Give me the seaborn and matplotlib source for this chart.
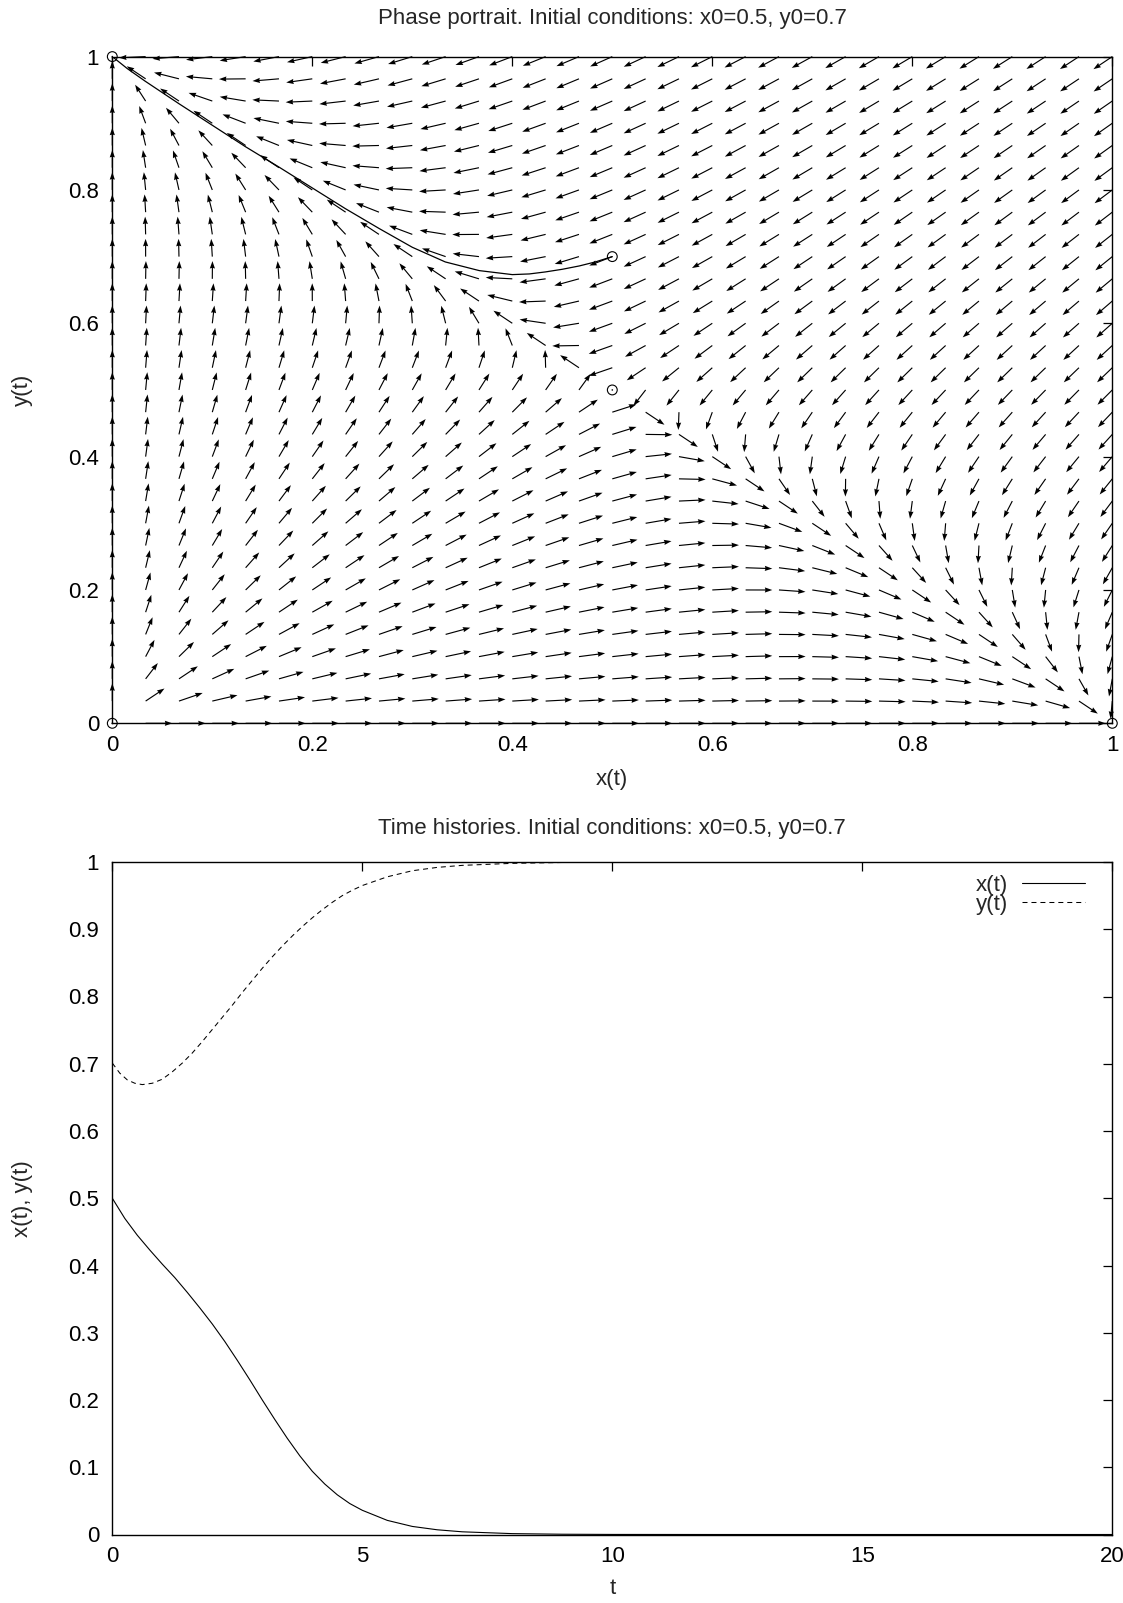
import numpy as np
import pandas as pd
import matplotlib
matplotlib.use("Agg")
import matplotlib.pyplot as plt
import seaborn as sns

# ---------------- data ----------------
# competition model used for the direction field (read from arrow directions)
comp = 2.0
grid_vals = np.linspace(0.0, 1.0, 31)

# equilibria (circles) and initial condition
eq_x = [0.0, 1.0, 0.0, 0.5]
eq_y = [0.0, 0.0, 1.0, 0.5]
init_x = [0.5]
init_y = [0.7]

# phase trajectory
traj_x = [0.500, 0.483, 0.467, 0.450, 0.433, 0.417, 0.400, 0.367, 0.333, 0.300,
          0.267, 0.233, 0.200, 0.167, 0.133, 0.100, 0.067, 0.033, 0.015, 0.0]
traj_y = [0.700, 0.692, 0.686, 0.681, 0.677, 0.674, 0.673, 0.679, 0.692, 0.714,
          0.742, 0.772, 0.803, 0.834, 0.865, 0.897, 0.929, 0.963, 0.982, 1.0]

# time histories
t_x = [0, 0.25, 0.5, 0.75, 1, 1.25, 1.5, 1.75, 2, 2.25, 2.5, 2.75, 3, 3.25, 3.5,
       3.75, 4, 4.25, 4.5, 4.75, 5, 5.5, 6, 6.5, 7, 8, 9, 10, 12, 15, 20]
x_vals = [0.5, 0.470, 0.445, 0.423, 0.402, 0.382, 0.360, 0.337, 0.313, 0.287,
          0.259, 0.230, 0.200, 0.171, 0.143, 0.117, 0.094, 0.075, 0.059, 0.046,
          0.036, 0.021, 0.012, 0.007, 0.004, 0.0013, 0.0004, 0.0001, 0, 0, 0]
t_y = [0, 0.15, 0.3, 0.45, 0.6, 0.8, 1.0, 1.2, 1.4, 1.6, 1.8, 2.0, 2.2, 2.4, 2.6,
       2.8, 3.0, 3.2, 3.4, 3.6, 3.8, 4.0, 4.2, 4.4, 4.6, 4.8, 5.0, 5.5, 6, 6.5, 7,
       8, 9, 10, 12, 15, 20]
y_vals = [0.701, 0.686, 0.676, 0.671, 0.669, 0.671, 0.677, 0.688, 0.701, 0.716,
          0.733, 0.751, 0.769, 0.787, 0.806, 0.824, 0.842, 0.859, 0.875, 0.890,
          0.904, 0.917, 0.929, 0.940, 0.950, 0.958, 0.965, 0.978, 0.987, 0.992,
          0.995, 0.998, 0.9993, 1, 1, 1, 1]

phase_ticks = [0, 0.2, 0.4, 0.6, 0.8, 1]
phase_ticklabels = ["0", "0.2", "0.4", "0.6", "0.8", "1"]
time_xticks = [0, 5, 10, 15, 20]
time_xticklabels = ["0", "5", "10", "15", "20"]
time_yticks = [0, 0.1, 0.2, 0.3, 0.4, 0.5, 0.6, 0.7, 0.8, 0.9, 1]
time_yticklabels = ["0", "0.1", "0.2", "0.3", "0.4", "0.5", "0.6", "0.7", "0.8", "0.9", "1"]

title1 = "Phase portrait. Initial conditions: x0=0.5, y0=0.7"
title2 = "Time histories. Initial conditions: x0=0.5, y0=0.7"

# ---------------- style ----------------
sns.set_theme(context="notebook", style="white")
plt.rcParams["font.family"] = ["Liberation Sans", "DejaVu Sans"]
FS = 16
plt.rcParams["font.size"] = FS
plt.rcParams["axes.edgecolor"] = "black"
plt.rcParams["axes.linewidth"] = 1.0

W, H = 1123, 1603
fig = plt.figure(figsize=(W / 100, H / 100), dpi=100)

ax1 = fig.add_axes([112.3 / W, 1 - 723.3 / H, 1000 / W, 666.7 / H])
ax2 = fig.add_axes([112.3 / W, 1 - 1534.5 / H, 1000 / W, 672.5 / H])

# ---------------- phase portrait ----------------
X, Y = np.meshgrid(grid_vals, grid_vals)
U = X * (1 - X - comp * Y ** 2)
V = Y * (1 - Y - comp * X ** 2)
mag = np.hypot(U, V)
L = 0.8 / 30
safe = np.where(mag > 0, mag, 1.0)
U = np.where(mag > 0, U / safe * L, 0.0)
V = np.where(mag > 0, V / safe * L, 0.0)

ax1.quiver(X, Y, U, V, angles="xy", scale_units="xy", scale=1, pivot="tail",
           units="dots", width=1.15, headwidth=4.5, headlength=6.5, headaxislength=6.0,
           minlength=1.5, color="black", zorder=2, clip_on=False)

traj_df = pd.DataFrame({"x": traj_x, "y": traj_y})
sns.lineplot(data=traj_df, x="x", y="y", sort=False, estimator=None, ax=ax1,
             color="black", linewidth=0.9, zorder=3)

sns.scatterplot(x=eq_x + init_x, y=eq_y + init_y, ax=ax1, marker="o", s=50,
                facecolor="none", edgecolor="black", linewidth=0.8, zorder=4,
                clip_on=False)

ax1.set_xlim(0, 1)
ax1.set_ylim(0, 1)
ax1.set_xticks(phase_ticks, phase_ticklabels)
ax1.set_yticks(phase_ticks, phase_ticklabels)
ax1.set_xlabel("x(t)", fontsize=FS)
ax1.set_ylabel("y(t)", fontsize=FS)
ax1.xaxis.set_label_coords(0.5, -56 / 666.7)
ax1.yaxis.set_label_coords(-89.8 / 1000, 0.5)
ax1.xaxis.label.set_va("center")
ax1.yaxis.label.set_va("center")

# ---------------- time histories ----------------
dfx = pd.DataFrame({"t": t_x, "v": x_vals})
dfy = pd.DataFrame({"t": t_y, "v": y_vals})
sns.lineplot(data=dfx, x="t", y="v", ax=ax2, color="black", linewidth=0.8,
             label="x(t)", estimator=None)
sns.lineplot(data=dfy, x="t", y="v", ax=ax2, color="black", linewidth=0.75,
             linestyle=(0, (4.8, 3.8)), label="y(t)", estimator=None)
ax2.set_xlim(0, 20)
ax2.set_ylim(0, 1)
ax2.set_xticks(time_xticks, time_xticklabels)
ax2.set_yticks(time_yticks, time_yticklabels)
ax2.set_xlabel("t", fontsize=FS)
ax2.set_ylabel("x(t), y(t)", fontsize=FS)
ax2.xaxis.set_label_coords(0.5, -53.5 / 672.5)
ax2.yaxis.set_label_coords(-89.8 / 1000, 0.5)
ax2.xaxis.label.set_va("center")
ax2.yaxis.label.set_va("center")

leg = ax2.legend(loc="upper right", bbox_to_anchor=(1 - 27 / 1000, 1 - 13 / 672.5),
                 frameon=False, markerfirst=False, handlelength=2.85,
                 handletextpad=0.62, labelspacing=-0.1, borderaxespad=0,
                 borderpad=0, fontsize=FS)
for txt in leg.get_texts():
    txt.set_ha("right")

for ax in (ax1, ax2):
    ax.tick_params(direction="in", top=True, right=True, length=6.5, width=0.9,
                   labelsize=FS, colors="black")
    ax.tick_params(axis="x", pad=8.5)
    ax.tick_params(axis="y", pad=9.5)
    for sp in ax.spines.values():
        sp.set_visible(True)
        sp.set_color("black")
        sp.set_linewidth(1.0)
    ax.set_facecolor("white")

fig.text(612.3 / W, 1 - 18.4 / H, title1, ha="center", va="center", fontsize=FS)
fig.text(612.3 / W, 1 - 828.5 / H, title2, ha="center", va="center", fontsize=FS)

fig.savefig("out.png", dpi=100, facecolor="white")
